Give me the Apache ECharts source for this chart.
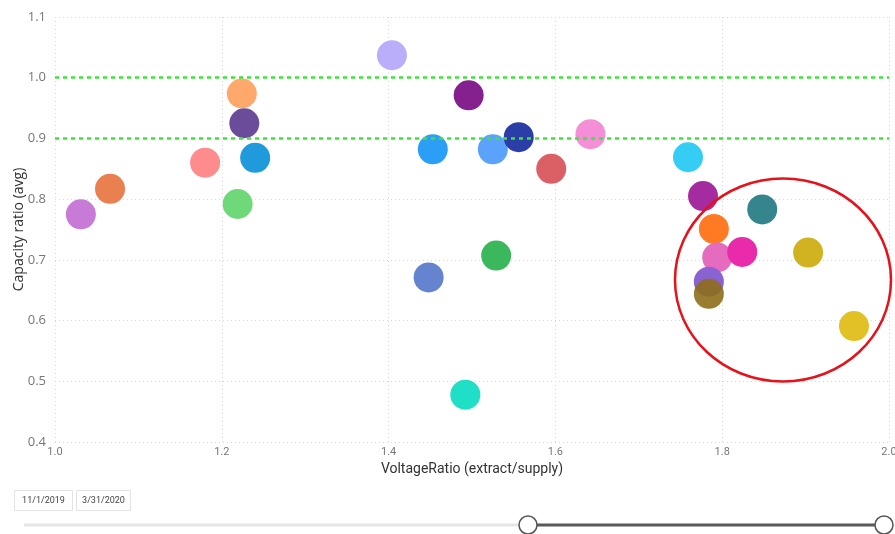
<!DOCTYPE html>
<html>
<head>
<meta charset="utf-8">
<script src="https://cdn.jsdelivr.net/npm/echarts@6/dist/echarts.min.js"></script>
<style>
  html, body { margin: 0; padding: 0; background: #fff; }
  #chart { width: 895px; height: 534px; }
</style>
</head>
<body>
<div id="chart"></div>
<script>
// Voltage ratio (extract/supply) per unit
const voltageRatio = [
  1.031, 1.066, 1.180, 1.224, 1.227, 1.240, 1.219,
  1.404, 1.496, 1.453, 1.525, 1.556, 1.595, 1.642,
  1.529, 1.448, 1.492,
  1.759, 1.777, 1.790, 1.794, 1.824, 1.848, 1.903,
  1.784, 1.784, 1.958
];
// Average capacity ratio per unit
const capacityRatio = [
  0.775, 0.817, 0.860, 0.974, 0.925, 0.868, 0.792,
  1.037, 0.971, 0.882, 0.882, 0.902, 0.850, 0.907,
  0.707, 0.671, 0.478,
  0.869, 0.805, 0.751, 0.704, 0.713, 0.783, 0.712,
  0.664, 0.644, 0.591
];
// Reference levels for capacity ratio
const referenceLevels = [1.0, 0.9];
// Selected date range of the slicer
const dateRange = ['11/1/2019', '3/31/2020'];

const palette = [
  '#C77AD6', '#E8804F', '#FF8C8C', '#FFA86B', '#6B4C9A', '#1F9BDB', '#6FD97A',
  '#BAAEFA', '#85208F', '#2B9EF5', '#5AA2FA', '#2B3EA8', '#DB6066', '#F48ED6',
  '#3BB85C', '#6683CF', '#1FE0C6',
  '#36CDF5', '#A52BA0', '#FF7A23', '#E56BBE', '#E92AAB', '#35868C', '#D1B322',
  '#8A63D2', '#8E6E1A', '#E1C126'
];

const points = voltageRatio.map((v, i) => ({
  value: [v, capacityRatio[i]],
  itemStyle: { color: palette[i % palette.length], opacity: i === 25 ? 0.9 : 1 }
}));

const chart = echarts.init(document.getElementById('chart'), null, { renderer: 'canvas' });

const tickFont = "'Liberation Sans Narrow', 'Roboto', sans-serif";

chart.setOption({
  animation: false,
  backgroundColor: '#ffffff',
  grid: { left: 55, right: 6, top: 17, bottom: 92, containLabel: false, outerBoundsMode: 'none' },
  xAxis: {
    type: 'value',
    min: 1.0, max: 2.0, interval: 0.2,
    name: 'VoltageRatio (extract/supply)',
    nameLocation: 'middle', nameGap: 20,
    nameTextStyle: { color: '#333', fontSize: 14, fontFamily: tickFont },
    axisLine: { show: false }, axisTick: { show: false },
    axisLabel: { color: '#777', fontSize: 11, margin: 5, fontFamily: tickFont,
      formatter: v => v.toFixed(1) },
    splitLine: { show: true, lineStyle: { color: '#d8d8d8', type: [1, 3], width: 1 } }
  },
  yAxis: {
    type: 'value',
    min: 0.4, max: 1.1, interval: 0.1,
    name: 'Capacity ratio (avg)',
    nameLocation: 'middle', nameGap: 29, nameMoveOverlap: false,
    nameTextStyle: { color: '#333', fontSize: 14, fontFamily: "'Open Sans', sans-serif" },
    axisLine: { show: false }, axisTick: { show: false },
    axisLabel: { color: '#777', fontSize: 13, margin: 9, fontFamily: "'Open Sans', sans-serif",
      formatter: v => v.toFixed(1) },
    splitLine: { show: true, lineStyle: { color: '#d8d8d8', type: [1, 3], width: 1 } }
  },
  series: [{
    type: 'scatter',
    symbolSize: 30,
    data: points,
    markLine: {
      silent: true,
      symbol: ['none', 'none'],
      label: { show: false },
      lineStyle: { color: '#3fe23f', width: 2.5, type: [4, 4] },
      data: referenceLevels.map(v => ({ yAxis: v }))
    }
  }],
  graphic: [
    // highlight ring around the high-voltage cluster
    {
      type: 'ellipse', z: 100,
      shape: { cx: 783, cy: 280, rx: 108, ry: 101.5 },
      style: { fill: 'none', stroke: '#E5121B', lineWidth: 2.5 }
    },
    // slicer: date boxes
    {
      type: 'rect', shape: { x: 14.5, y: 490.5, width: 58, height: 20 },
      style: { fill: '#fff', stroke: '#e3e3e3', lineWidth: 1 }
    },
    {
      type: 'text', x: 43.5, y: 500.5,
      style: { text: dateRange[0], fill: '#444', font: "9px " + tickFont, align: 'center', verticalAlign: 'middle' }
    },
    {
      type: 'rect', shape: { x: 76.5, y: 490.5, width: 54, height: 20 },
      style: { fill: '#fff', stroke: '#e3e3e3', lineWidth: 1 }
    },
    {
      type: 'text', x: 103.5, y: 500.5,
      style: { text: dateRange[1], fill: '#444', font: "9px " + tickFont, align: 'center', verticalAlign: 'middle' }
    },
    // slicer: track and handles
    {
      type: 'line', shape: { x1: 24, y1: 525, x2: 528, y2: 525 },
      style: { stroke: '#e6e6e6', lineWidth: 3 }
    },
    {
      type: 'line', shape: { x1: 528, y1: 525, x2: 884, y2: 525 },
      style: { stroke: '#5a5a5a', lineWidth: 3 }
    },
    {
      type: 'circle', shape: { cx: 528, cy: 525, r: 9 },
      style: { fill: '#fff', stroke: '#555', lineWidth: 1.5 }
    },
    {
      type: 'circle', shape: { cx: 884, cy: 525, r: 9 },
      style: { fill: '#fff', stroke: '#555', lineWidth: 1.5 }
    }
  ]
});
</script>
</body>
</html>
